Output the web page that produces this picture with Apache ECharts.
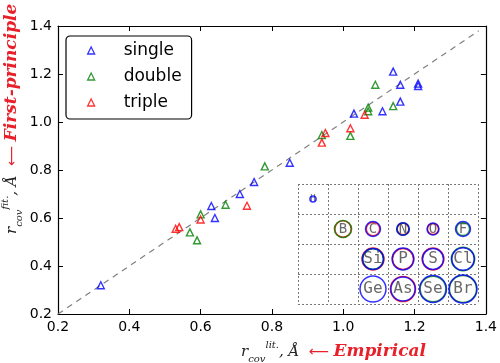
<!DOCTYPE html>
<html>
<head>
<meta charset="utf-8">
<script src="https://cdn.jsdelivr.net/npm/echarts@6/dist/echarts.min.js"></script>
<style>html,body{margin:0;padding:0;background:#fff;}#chart{width:500px;height:363px;}</style>
</head>
<body>
<div id="chart"></div>
<script>
// ---- data ----
const axisMin = 0.2, axisMax = 1.4, axisStep = 0.2;
const diagonal = [0.2, 1.38];
const seriesNames = ['single', 'double', 'triple'];
const singleData = [[0.32,0.32],[0.63,0.65],[0.64,0.60],[0.71,0.70],[0.75,0.75],[0.85,0.83],[1.03,1.035],[1.11,1.045],[1.14,1.21],[1.16,1.155],[1.16,1.085],[1.21,1.16],[1.21,1.15]];
const doubleData = [[0.57,0.54],[0.59,0.507],[0.60,0.615],[0.67,0.655],[0.78,0.815],[0.94,0.946],[1.02,0.942],[1.07,1.045],[1.07,1.06],[1.09,1.155],[1.14,1.066]];
const tripleData = [[0.53,0.555],[0.54,0.562],[0.60,0.594],[0.73,0.651],[0.94,0.914],[0.95,0.954],[1.02,0.974],[1.06,1.03]];

// inset periodic table
const elements = ['H','B','C','N','O','F','Si','P','S','Cl','Ge','As','Se','Br'];
const elemCol  = [0,1,2,3,4,5,2,3,4,5,2,3,4,5];
const elemRow  = [0,1,1,1,1,1,2,2,2,2,3,3,3,3];
const insetSingle = [0.28,null,0.68,0.57,0.54,0.68,0.96,0.99,0.95,1.02,1.18,1.10,1.22,1.27];
const insetDouble = [null,0.78,null,0.55,null,0.60,0.94,null,null,1.06,null,null,1.17,1.23];
const insetTriple = [null,0.74,0.61,0.53,0.50,null,1.00,0.95,0.99,null,null,1.14,null,null];

// ---- styles ----
const colors = {single:'#0000ff', double:'#008000', triple:'#ff0000'};
const circleScale = 22;
const rowFont = [9, 14, 16, 16];

function insetPoints(radii) {
  const out = [];
  radii.forEach((r, i) => { if (r != null) out.push([elemCol[i] + 0.5, elemRow[i] + 0.5, r]); });
  return out;
}

const chart = echarts.init(document.getElementById('chart'), null, {renderer:'canvas'});

const mainAxisCommon = {
  type:'value', min:axisMin, max:axisMax, interval:axisStep,
  axisLine:{show:true, lineStyle:{color:'#000', width:1.2}},
  axisTick:{show:true, inside:true, length:5, lineStyle:{color:'#000', width:1}},
  splitLine:{show:false}
};
const labelStyle = {color:'#000', fontSize:14, fontFamily:'DejaVu Sans', formatter:v => v.toFixed(1)};
const insetAxisCommon = {
  type:'value', min:0, interval:1, gridIndex:1,
  axisLine:{show:false}, axisTick:{show:false}, axisLabel:{show:false},
  splitLine:{show:true, lineStyle:{color:'#777', type:[2,2], width:1}}
};

const scatterMain = (name, data) => ({
  name, type:'scatter', data, symbol:'triangle', symbolSize:7,
  itemStyle:{color:'rgba(0,0,0,0)', borderColor:colors[name], borderWidth:1.4},
  z:5
});
const scatterInset = (name, radii) => ({
  name:'inset-' + name, type:'scatter', xAxisIndex:2, yAxisIndex:2,
  data: insetPoints(radii), symbol:'circle',
  symbolSize: v => v[2] * circleScale,
  itemStyle:{color:'rgba(0,0,0,0)', borderColor:colors[name], borderWidth:1.5},
  z:6, silent:true
});

const richText = {
  r:{fontFamily:'DejaVu Serif', fontStyle:'italic', fontSize:15, lineHeight:24, verticalAlign:'middle', fill:'#222'},
  sub:{fontFamily:'DejaVu Serif', fontStyle:'italic', fontSize:10, lineHeight:14, verticalAlign:'bottom', fill:'#222'},
  sup:{fontFamily:'DejaVu Serif', fontStyle:'italic', fontSize:10, lineHeight:10, verticalAlign:'top', fill:'#222'},
  arr:{fontFamily:'DejaVu Sans', fontSize:14, lineHeight:24, verticalAlign:'middle', fill:'#e8202a'},
  red:{fontFamily:'DejaVu Serif', fontStyle:'italic', fontWeight:'bold', fontSize:17, lineHeight:24, verticalAlign:'middle', fill:'#e8202a'}
};

const option = {
  animation:false,
  backgroundColor:'#fff',
  grid:[
    {left:58, right:13, top:26, bottom:49},
    {left:298, top:184, width:180, height:120}
  ],
  xAxis:[
    Object.assign({}, mainAxisCommon, {gridIndex:0, position:'bottom', axisLabel:Object.assign({margin:6}, labelStyle)}),
    Object.assign({}, mainAxisCommon, {gridIndex:0, position:'top', axisLabel:{show:false}}),
    Object.assign({}, insetAxisCommon, {max:6})
  ],
  yAxis:[
    Object.assign({}, mainAxisCommon, {gridIndex:0, position:'left', axisLabel:Object.assign({margin:6}, labelStyle)}),
    Object.assign({}, mainAxisCommon, {gridIndex:0, position:'right', axisLabel:{show:false}}),
    Object.assign({}, insetAxisCommon, {max:4, inverse:true})
  ],
  legend:{
    data: seriesNames.map(n => ({name:n, icon:'triangle', itemStyle:{color:'rgba(0,0,0,0)', borderColor:colors[n], borderWidth:1.3}})),
    orient:'vertical', left:66, top:36,
    padding:[6,10,8,21], itemWidth:7, itemHeight:7, itemGap:9,
    borderColor:'#000', borderWidth:1.2, borderRadius:4, backgroundColor:'#fff',
    textStyle:{fontSize:17, fontFamily:'DejaVu Sans', color:'#000', lineHeight:17, padding:[0,0,0,24]},
    selectedMode:false
  },
  graphic:[
    {type:'text', x:241, y:340, z:100, style:{
      text:'{r|r}{sub|cov}{sup|lit.}{r|, Å  }{arr|⟵ }{red|Empirical}', rich:richText, verticalAlign:'top', align:'left'}},
    {type:'text', x:0, y:234, rotation:Math.PI/2, z:100, style:{
      text:'{r|r}{sub|cov}{sup|fit.}{r|, Å  }{arr|⟵ }{red|First-principle}', rich:richText, verticalAlign:'top', align:'left'}}
  ],
  series:[
    {name:'diag', type:'line', data: diagonal.map(v => [v, v]), symbol:'none', silent:true,
     lineStyle:{color:'#808080', type:[6,5], width:1.2}, z:2},
    scatterMain('single', singleData),
    scatterMain('double', doubleData),
    scatterMain('triple', tripleData),
    {name:'inset-labels', type:'scatter', xAxisIndex:2, yAxisIndex:2, silent:true,
     data: elements.map((e, i) => ({name:e, value:[elemCol[i] + 0.5, elemRow[i] + 0.5],
       label:{fontSize: rowFont[elemRow[i]]}})),
     symbolSize:1, itemStyle:{color:'rgba(0,0,0,0)'},
     label:{show:true, position:'inside', formatter:p => p.name, color:'#444', fontFamily:'DejaVu Sans Mono'},
     z:5},
    scatterInset('triple', insetTriple),
    scatterInset('double', insetDouble),
    scatterInset('single', insetSingle)
  ]
};
chart.setOption(option);
</script>
</body>
</html>
